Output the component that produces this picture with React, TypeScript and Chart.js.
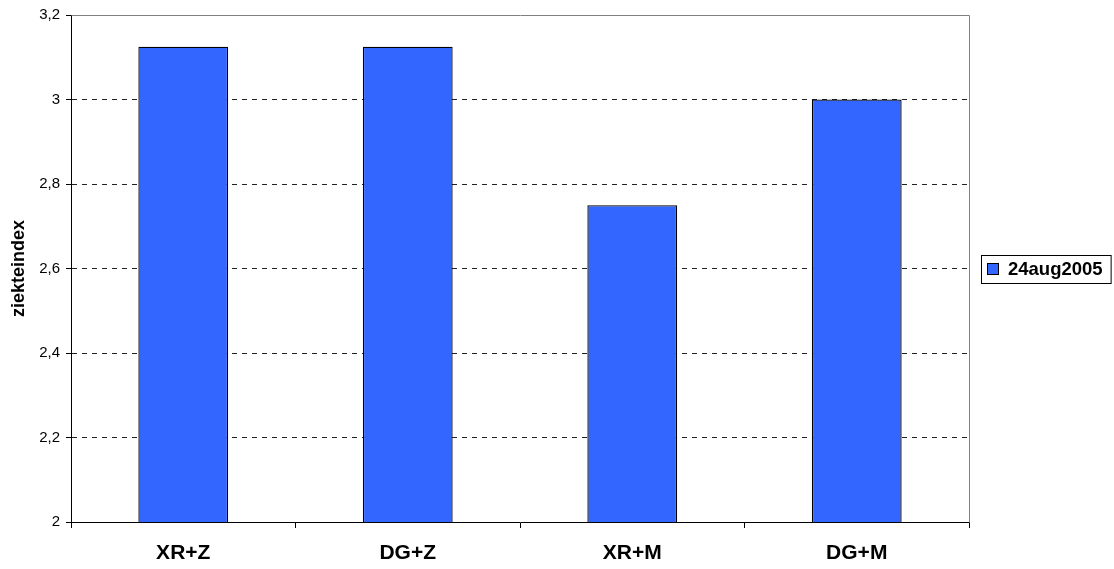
import React, { useEffect, useRef } from "react";
import { Chart, registerables } from "chart.js";

Chart.register(...registerables);

const categories = ["XR+Z", "DG+Z", "XR+M", "DG+M"];
const seriesLabel = "24aug2005";
const seriesValues = [3.125, 3.125, 2.75, 3.0];
const yTickValues = [2, 2.2, 2.4, 2.6, 2.8, 3, 3.2];
const yTickLabels = ["2", "2,2", "2,4", "2,6", "2,8", "3", "3,2"];
const yAxisTitle = "ziekteindex";

const FONT = "'Liberation Sans', Arial, sans-serif";
const BAR_COLOR = "#3366FF";

const framePlugin = {
  id: "frameAndLegend",
  afterDraw(chart: any) {
    const { ctx, chartArea } = chart;
    ctx.save();
    // top & right gray frame
    ctx.strokeStyle = "#808080";
    ctx.lineWidth = 1;
    ctx.setLineDash([]);
    ctx.beginPath();
    ctx.moveTo(Math.round(chartArea.left) + 0.5, Math.round(chartArea.top) + 0.5);
    ctx.lineTo(Math.round(chartArea.right) + 0.5, Math.round(chartArea.top) + 0.5);
    ctx.lineTo(Math.round(chartArea.right) + 0.5, Math.round(chartArea.bottom) + 0.5);
    ctx.stroke();

    // legend
    const ds = chart.data.datasets[0];
    ctx.font = `bold 18.5px ${FONT}`;
    const tw = ctx.measureText(ds.label).width;
    const boxLeft = Math.round(chartArea.right) + 12;
    const cy = (chartArea.top + chartArea.bottom) / 2;
    const boxH = 28;
    const boxTop = Math.round(cy - boxH / 2);
    const marker = 11;
    const boxW = 6 + marker + 10 + tw + 8;
    ctx.fillStyle = "#ffffff";
    ctx.fillRect(boxLeft, boxTop, boxW, boxH);
    ctx.strokeStyle = "#000000";
    ctx.strokeRect(boxLeft + 0.5, boxTop + 0.5, boxW, boxH);
    const mx = boxLeft + 6;
    const my = Math.round(cy - marker / 2);
    ctx.fillStyle = ds.backgroundColor;
    ctx.fillRect(mx, my, marker, marker);
    ctx.strokeStyle = "#000000";
    ctx.strokeRect(mx + 0.5, my + 0.5, marker, marker);
    ctx.fillStyle = "#000000";
    ctx.textBaseline = "middle";
    ctx.textAlign = "left";
    ctx.fillText(ds.label, mx + marker + 10, cy + 1);
    ctx.restore();
  },
};

export default function App() {
  const ref = useRef<HTMLCanvasElement | null>(null);

  useEffect(() => {
    if (!ref.current) return;
    const chart = new Chart(ref.current, {
      type: "bar",
      data: {
        labels: categories,
        datasets: [
          {
            label: seriesLabel,
            data: seriesValues,
            backgroundColor: BAR_COLOR,
            borderColor: "#000000",
            borderWidth: 1.3,
            categoryPercentage: 1,
            barPercentage: 0.4,
          },
        ],
      },
      options: {
        animation: false,
        responsive: true,
        maintainAspectRatio: false,
        layout: { padding: { top: 15, right: 145, left: 0, bottom: 0 } },
        plugins: {
          legend: { display: false },
          tooltip: { enabled: false },
        },
        scales: {
          x: {
            grid: {
              offset: true,
              drawOnChartArea: false,
              drawTicks: true,
              tickLength: 6,
              color: "#000000",
              tickColor: "#000000",
            },
            border: { display: true, color: "#000000", width: 1 },
            ticks: {
              color: "#000000",
              font: { family: FONT, size: 21, weight: "bold" },
              padding: 13,
              maxRotation: 0,
            },
            afterFit(scale: any) {
              scale.height = 47;
            },
          },
          y: {
            min: 2,
            max: 3.2,
            afterBuildTicks(scale: any) {
              scale.ticks = yTickValues.map((v) => ({ value: v }));
            },
            grid: {
              drawOnChartArea: true,
              drawTicks: true,
              tickLength: 5,
              color: (c: any) =>
                c.tick && (c.tick.value === 2 || c.tick.value === 3.2)
                  ? "rgba(0,0,0,0)"
                  : "#222222",
              tickColor: "#000000",
              tickBorderDash: [],
            },
            border: { display: true, color: "#000000", width: 1, dash: [5, 5] },
            ticks: {
              color: "#000000",
              font: { family: FONT, size: 15 },
              padding: 6,
              callback: (_v: any, i: number) => yTickLabels[i],
            },
            title: {
              display: true,
              text: yAxisTitle,
              color: "#000000",
              font: { family: FONT, size: 18, weight: "bold" },
              padding: { top: 8, bottom: 0 },
            },
            afterFit(scale: any) {
              scale.width = 71;
            },
          },
        },
      },
      plugins: [framePlugin],
    });
    return () => chart.destroy();
  }, []);

  return (
    <div
      style={{
        position: "fixed",
        left: 0,
        top: 0,
        width: 1114,
        height: 569,
        background: "#ffffff",
      }}
    >
      <canvas ref={ref} />
    </div>
  );
}
